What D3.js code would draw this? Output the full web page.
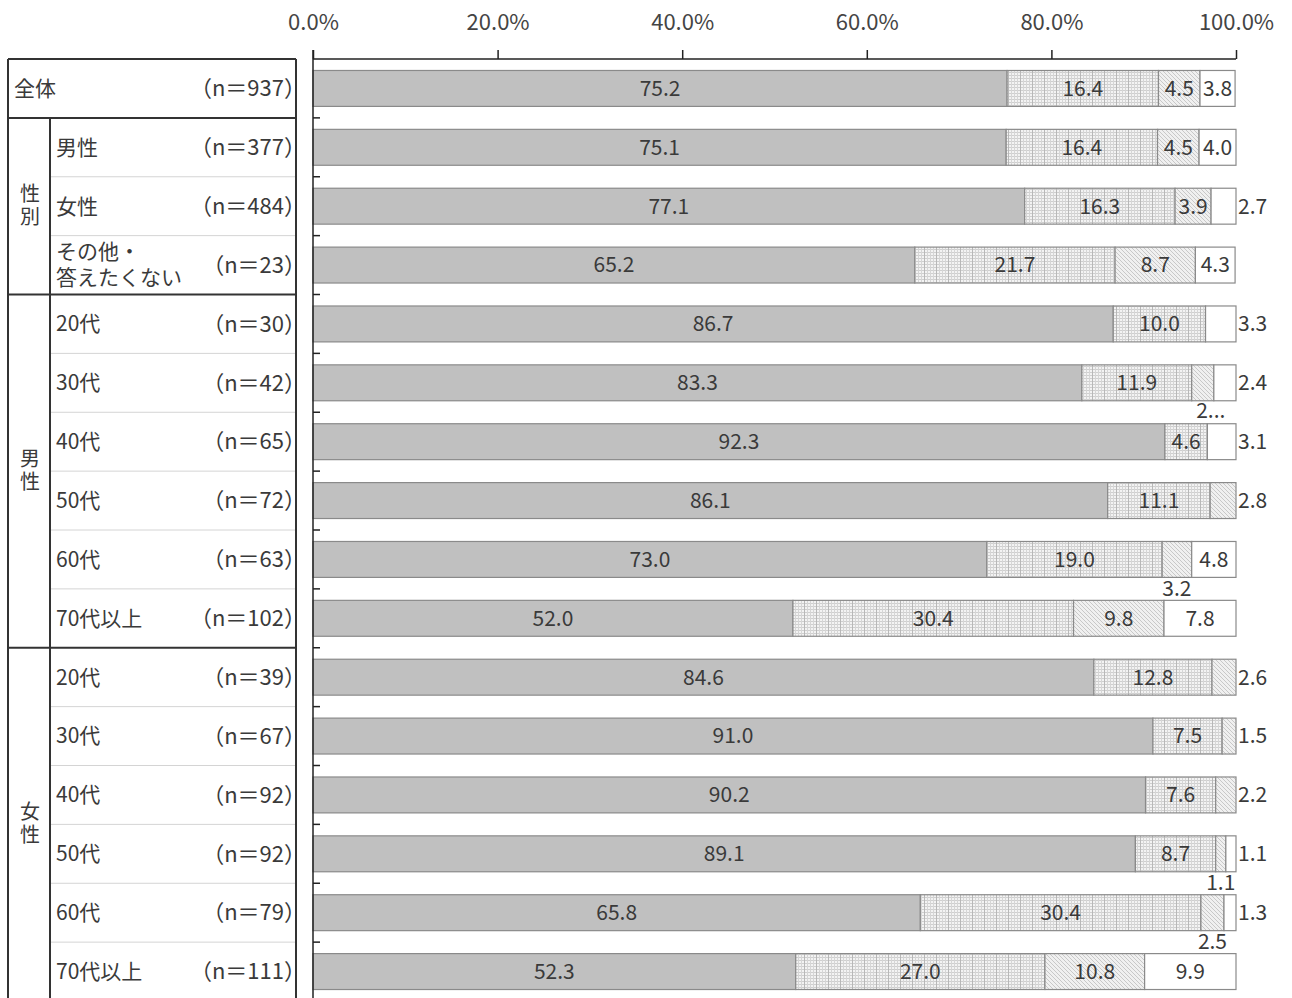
<!DOCTYPE html>
<html>
<head>
<meta charset="utf-8">
<script src="https://cdn.jsdelivr.net/npm/d3@7"></script>
<style>
  html, body { margin: 0; padding: 0; background: #fff; }
  svg { display: block; font-family: "Noto Sans CJK JP", "Noto Sans", sans-serif; }
</style>
</head>
<body>
<svg id="chart" width="1292" height="998"></svg>
<script>
// Row labels and sample sizes
const rowLabels = ["全体", "男性", "女性", "その他・|答えたくない",
  "20代", "30代", "40代", "50代", "60代", "70代以上",
  "20代", "30代", "40代", "50代", "60代", "70代以上"];
const rowN = [937, 377, 484, 23, 30, 42, 65, 72, 63, 102, 39, 67, 92, 92, 79, 111];

// Group headers (first row index, last row index)
const groupNames = ["性別", "男性", "女性"];
const groupStart = [1, 4, 10];
const groupEnd = [3, 9, 15];

// Shares (%) of the four answer categories
const s1 = [75.2, 75.1, 77.1, 65.2, 86.7, 83.3, 92.3, 86.1, 73.0, 52.0, 84.6, 91.0, 90.2, 89.1, 65.8, 52.3];
const s2 = [16.4, 16.4, 16.3, 21.7, 10.0, 11.9, 4.6, 11.1, 19.0, 30.4, 12.8, 7.5, 7.6, 8.7, 30.4, 27.0];
const s3 = [4.5, 4.5, 3.9, 8.7, 0, 2.4, 0, 2.8, 3.2, 9.8, 2.6, 1.5, 2.2, 1.1, 2.5, 10.8];
const s4 = [3.8, 4.0, 2.7, 4.3, 3.3, 2.4, 3.1, 0, 4.8, 7.8, 0, 0, 0, 1.1, 1.3, 9.9];

// Where each value label sits: in = inside, right = after bar end, below = under the segment, cut = under, truncated
const pos1 = Array(16).fill("in");
const pos2 = Array(16).fill("in");
const pos3 = ["in", "in", "in", "in", "", "cut", "", "right", "below", "in", "right", "right", "right", "below", "below", "in"];
const pos4 = ["in", "in", "right", "in", "right", "right", "right", "", "in", "in", "", "", "", "right", "right", "in"];

const xTicks = [0, 20, 40, 60, 80, 100];

const series = [s1, s2, s3, s4];
const positions = [pos1, pos2, pos3, pos4];
const fills = ["#c0c0c0", "url(#pGrid)", "url(#pHatch)", "#ffffff"];

const svg = d3.select("#chart");
const defs = svg.append("defs");

// fine grid fill
const pg = defs.append("pattern").attr("id", "pGrid").attr("patternUnits", "userSpaceOnUse")
  .attr("width", 12).attr("height", 3);
pg.append("rect").attr("width", 12).attr("height", 3).attr("fill", "#f3f3f3");
pg.append("line").attr("x1", 0).attr("x2", 12).attr("y1", 0.5).attr("y2", 0.5).attr("stroke", "#cfcfcf").attr("stroke-width", 1);
[0.5, 3.5, 6.5, 9.5].forEach((x, i) =>
  pg.append("line").attr("x1", x).attr("x2", x).attr("y1", 0).attr("y2", 3)
    .attr("stroke", i === 0 ? "#b8b8b8" : "#d6d6d6").attr("stroke-width", 1));

// light diagonal hatch fill
const ph = defs.append("pattern").attr("id", "pHatch").attr("patternUnits", "userSpaceOnUse")
  .attr("width", 4).attr("height", 4);
ph.append("rect").attr("width", 4).attr("height", 4).attr("fill", "#f0f0f0");
ph.append("path").attr("d", "M-1,-1 L5,5 M-1,3 L1,5 M3,-1 L5,1").attr("stroke", "#c4c4c4").attr("stroke-width", 0.9);

const x = d3.scaleLinear().domain([0, 100]).range([313, 1236]);
const y = d3.scaleBand().domain(d3.range(16)).range([59, 1001]).paddingInner(0.39).paddingOuter(0.195);
const step = y.step();
const rowTop = i => 59 + i * step;

// ---- left table ----
const tbl = svg.append("g");
const tL = 8, tM = 50, tR = 296;
// thin separators inside groups
for (let i = 1; i < 16; i++) {
  const isGroupBreak = i === 1 || groupStart.includes(i);
  if (!isGroupBreak) {
    tbl.append("line").attr("x1", tM).attr("x2", tR).attr("y1", rowTop(i)).attr("y2", rowTop(i))
      .attr("stroke", "#d4d4d4").attr("stroke-width", 1);
  }
}
// thick group breaks
[0, 1, 4, 10].forEach(i => tbl.append("line").attr("x1", tL).attr("x2", tR)
  .attr("y1", rowTop(i)).attr("y2", rowTop(i)).attr("stroke", "#333").attr("stroke-width", 2));
tbl.append("line").attr("x1", tL).attr("x2", tL).attr("y1", rowTop(0)).attr("y2", 1000).attr("stroke", "#333").attr("stroke-width", 2);
tbl.append("line").attr("x1", tR).attr("x2", tR).attr("y1", rowTop(0)).attr("y2", 1000).attr("stroke", "#333").attr("stroke-width", 2);
tbl.append("line").attr("x1", tM).attr("x2", tM).attr("y1", rowTop(1)).attr("y2", 1000).attr("stroke", "#333").attr("stroke-width", 2);

const txtColor = "#3a3a3a";
rowLabels.forEach((lab, i) => {
  const cy = y(i) + y.bandwidth() / 2;
  const lx = i === 0 ? 14 : 56;
  const parts = lab.split("|");
  const t = tbl.append("text").attr("font-size", 21).attr("fill", txtColor);
  parts.forEach((p, k) => {
    t.append("tspan").attr("x", lx).attr("y", cy + (k - (parts.length - 1) / 2) * 26)
      .attr("dy", "0.35em").text(p);
  });
  tbl.append("text").attr("x", 306).attr("y", cy).attr("dy", "0.35em")
    .attr("text-anchor", "end").attr("font-size", 22).attr("fill", txtColor)
    .text("（n＝" + rowN[i] + "）");
});
// group headers written top-to-bottom
groupNames.forEach((g, k) => {
  const cy = (rowTop(groupStart[k]) + rowTop(groupEnd[k] + 1)) / 2;
  tbl.append("text").attr("x", 30).attr("y", cy)
    .attr("writing-mode", "vertical-rl").attr("text-anchor", "middle")
    .attr("letter-spacing", 3).attr("font-size", 20).attr("fill", txtColor).text(g);
});

// ---- bars ----
const fmt = d3.format(".1f");
const barG = svg.append("g");
const lblG = svg.append("g");
d3.range(16).forEach(i => {
  let acc = 0;
  series.forEach((s, k) => {
    const v = s[i];
    const x0 = acc, x1 = acc + v;
    acc = x1;
    if (v <= 0) return;
    barG.append("rect").attr("x", x(x0)).attr("y", y(i))
      .attr("width", x(x1) - x(x0)).attr("height", y.bandwidth())
      .attr("fill", fills[k]).attr("stroke", "#8a8a8a").attr("stroke-width", 1.2);
    const p = positions[k][i];
    const cy = y(i) + y.bandwidth() / 2;
    const cx = (x(x0) + x(x1)) / 2;
    const t = lblG.append("text").attr("font-size", 21).attr("fill", txtColor).attr("dy", "0.35em");
    if (p === "in") {
      t.attr("x", cx).attr("y", cy).attr("text-anchor", "middle").text(fmt(v));
    } else if (p === "right") {
      t.attr("x", x(100) + 2).attr("y", cy).attr("text-anchor", "start").text(fmt(v));
    } else if (p === "below") {
      t.attr("x", cx).attr("y", y(i) + y.bandwidth() + 11).attr("text-anchor", "middle").text(fmt(v));
    } else if (p === "cut") {
      t.attr("x", cx + 8).attr("y", y(i) + y.bandwidth() + 10).attr("text-anchor", "middle")
        .text(fmt(v).slice(0, 1) + "...");
    }
  });
});

// ---- axes ----
const axG = svg.append("g").attr("transform", "translate(0,59)");
axG.call(d3.axisTop(x).tickValues(xTicks).tickSize(9).tickPadding(20).tickFormat(d => fmt(d) + "%"));
axG.select(".domain").attr("stroke", "#222").attr("stroke-width", 1.5).attr("d", `M${x(0)},0H${x(100)}`);
axG.selectAll(".tick line").attr("stroke", "#222").attr("stroke-width", 1.5);
axG.selectAll(".tick text").attr("font-size", 22).attr("fill", "#444")
  .attr("font-family", "\"Noto Sans CJK JP\", sans-serif");

const yAx = svg.append("g").attr("transform", `translate(${x(0)},0)`);
yAx.append("line").attr("x1", 0).attr("x2", 0).attr("y1", 50).attr("y2", 1000).attr("stroke", "#222").attr("stroke-width", 1.5);
d3.range(1, 16).forEach(i => yAx.append("line").attr("x1", 0).attr("x2", 7)
  .attr("y1", rowTop(i)).attr("y2", rowTop(i)).attr("stroke", "#222").attr("stroke-width", 1.5));
</script>
</body>
</html>
